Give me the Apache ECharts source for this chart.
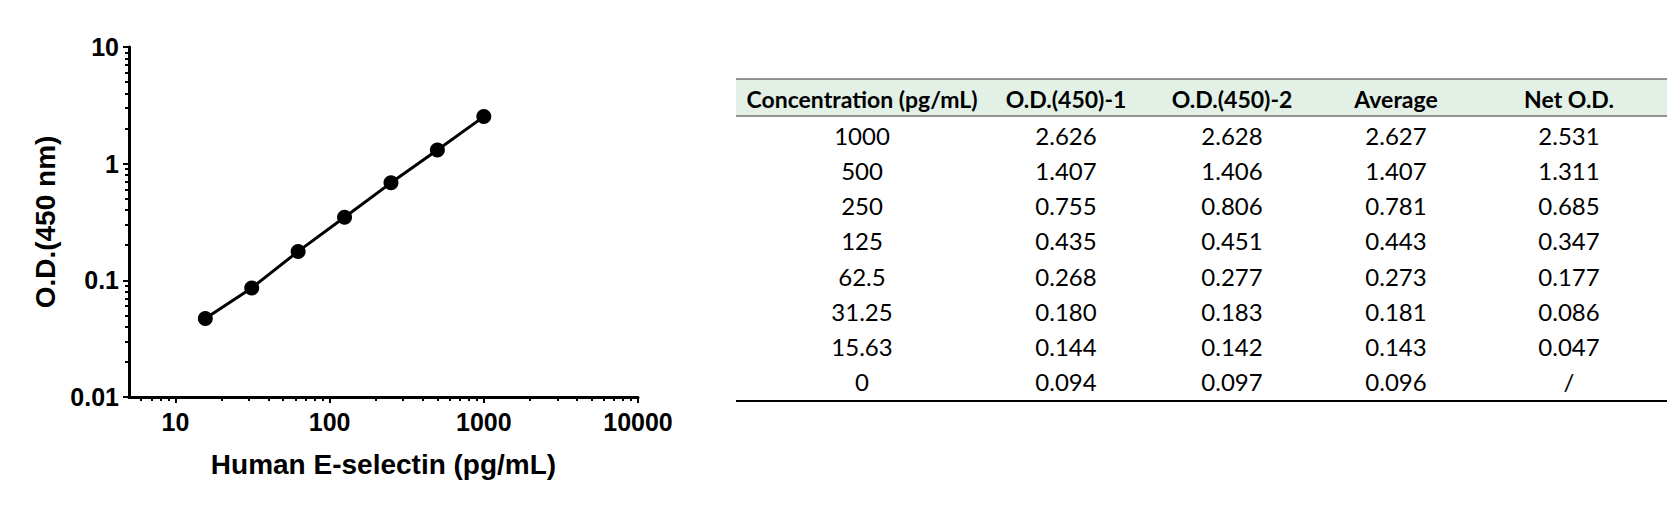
<!DOCTYPE html>
<html>
<head>
<meta charset="utf-8">
<script src="https://cdn.jsdelivr.net/npm/echarts@6/dist/echarts.min.js"></script>
<style>
html,body{margin:0;padding:0;background:#fff;}
#chart{width:1667px;height:507px;}
</style>
</head>
<body>
<div id="chart"></div>
<script>
// table data (strings keep the printed decimals)
var headers = ['Concentration (pg/mL)', 'O.D.(450)-1', 'O.D.(450)-2', 'Average', 'Net O.D.'];
var concLabels = ['1000', '500', '250', '125', '62.5', '31.25', '15.63', '0'];
var od1 = ['2.626', '1.407', '0.755', '0.435', '0.268', '0.180', '0.144', '0.094'];
var od2 = ['2.628', '1.406', '0.806', '0.451', '0.277', '0.183', '0.142', '0.097'];
var avgOD = ['2.627', '1.407', '0.781', '0.443', '0.273', '0.181', '0.143', '0.096'];
var netOD = ['2.531', '1.311', '0.685', '0.347', '0.177', '0.086', '0.047', '/'];

// axis ticks
var xMajor = [10, 100, 1000, 10000];
var xMinor = [6, 7, 8, 9, 20, 30, 40, 50, 60, 70, 80, 90, 200, 300, 400, 500, 600, 700, 800, 900, 2000, 3000, 4000, 5000, 6000, 7000, 8000, 9000];
var yMajor = [0.01, 0.1, 1, 10];
var yMinor = [0.02, 0.03, 0.04, 0.05, 0.06, 0.07, 0.08, 0.09, 0.2, 0.3, 0.4, 0.5, 0.6, 0.7, 0.8, 0.9, 2, 3, 4, 5, 6, 7, 8, 9];

// standard curve points = rows that have a net O.D.
var curve = [];
for (var i = 0; i < concLabels.length; i++) {
    if (netOD[i] !== '/') {
        curve.push([parseFloat(concLabels[i]), parseFloat(netOD[i])]);
    }
}

// table layout
var tblLeft = 736, tblRight = 1667, tblTop = 79, headH = 37, rowTop = 135.5, rowH = 35.14, tblBottom = 401;
var colX = [862, 1066, 1232, 1396, 1569];
var cols = [concLabels, od1, od2, avgOD, netOD];

var graphics = [
    {type: 'rect', shape: {x: tblLeft, y: tblTop, width: tblRight - tblLeft, height: headH}, style: {fill: '#E2F0E6'}, silent: true},
    {type: 'line', shape: {x1: tblLeft, y1: tblTop, x2: tblRight, y2: tblTop}, style: {stroke: '#333', lineWidth: 1}},
    {type: 'line', shape: {x1: tblLeft, y1: tblTop + headH, x2: tblRight, y2: tblTop + headH}, style: {stroke: '#333', lineWidth: 1}},
    {type: 'line', shape: {x1: tblLeft, y1: tblBottom, x2: tblRight, y2: tblBottom}, style: {stroke: '#000', lineWidth: 2}}
];
for (var c = 0; c < headers.length; c++) {
    graphics.push({
        type: 'text', x: colX[c], y: tblTop + headH / 2 + 1,
        style: {text: headers[c], fill: '#000', font: 'bold 23px Lato', textAlign: 'center', textVerticalAlign: 'middle'}
    });
    for (var r = 0; r < cols[c].length; r++) {
        graphics.push({
            type: 'text', x: colX[c], y: rowTop + r * rowH,
            style: {text: cols[c][r], fill: '#000', font: '24px Lato', textAlign: 'center', textVerticalAlign: 'middle'}
        });
    }
}

var labelFont = {color: '#000', fontSize: 25, fontWeight: 'bold', fontFamily: 'Liberation Sans'};
var nameFont = {color: '#000', fontSize: 28, fontWeight: 'bold', fontFamily: 'Liberation Sans'};

var chart = echarts.init(document.getElementById('chart'), null, {renderer: 'svg'});
var option = {
    animation: false,
    textStyle: {fontFamily: 'Liberation Sans'},
    grid: {left: 129, right: 1029, top: 47, bottom: 110, containLabel: false},
    xAxis: [
        {
            type: 'log', min: 5, max: 10000, position: 'bottom',
            name: 'Human E-selectin (pg/mL)', nameLocation: 'middle', nameGap: 53, nameTextStyle: nameFont,
            axisLine: {lineStyle: {color: '#000', width: 3}},
            axisTick: {customValues: xMajor, length: 6, lineStyle: {color: '#000', width: 2}},
            axisLabel: Object.assign({customValues: xMajor, margin: 12, formatter: function (v) { return String(v); }}, labelFont),
            splitLine: {show: false}
        },
        {
            type: 'log', min: 5, max: 10000, position: 'bottom',
            axisLine: {show: false},
            axisTick: {customValues: xMinor, length: 4, lineStyle: {color: '#000', width: 2}},
            axisLabel: {show: false},
            splitLine: {show: false}
        }
    ],
    yAxis: [
        {
            type: 'log', min: 0.01, max: 10, position: 'left',
            name: 'O.D.(450 nm)', nameLocation: 'middle', nameGap: 70, nameTextStyle: nameFont,
            axisLine: {show: true, lineStyle: {color: '#000', width: 3}},
            axisTick: {show: true, customValues: yMajor, length: 6, lineStyle: {color: '#000', width: 2}},
            axisLabel: Object.assign({customValues: yMajor, margin: 10, formatter: function (v) { return String(v); }}, labelFont),
            splitLine: {show: false}
        },
        {
            type: 'log', min: 0.01, max: 10, position: 'left',
            axisLine: {show: false},
            axisTick: {show: true, customValues: yMinor, length: 4, lineStyle: {color: '#000', width: 2}},
            axisLabel: {show: false},
            splitLine: {show: false}
        }
    ],
    series: [
        {
            name: 'Net O.D.',
            type: 'line',
            xAxisIndex: 0,
            yAxisIndex: 0,
            data: curve,
            symbol: 'circle',
            symbolSize: 15,
            itemStyle: {color: '#000'},
            lineStyle: {color: '#000', width: 3}
        }
    ],
    graphic: graphics
};
chart.setOption(option);
</script>
</body>
</html>
